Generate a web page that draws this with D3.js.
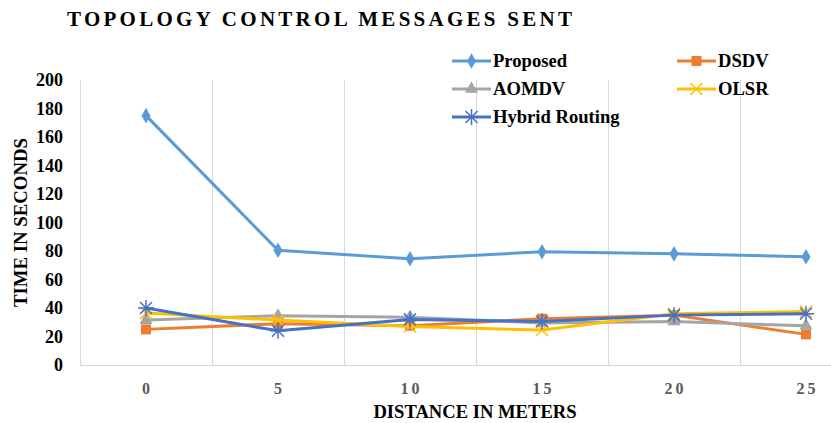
<!DOCTYPE html>
<html>
<head>
<meta charset="utf-8">
<script src="https://cdn.jsdelivr.net/npm/d3@7"></script>
<style>
  body { margin: 0; background: #fff; }
  svg text { font-family: "Liberation Serif", "Times New Roman", serif; font-weight: bold; }
</style>
</head>
<body>
<div id="chart"></div>
<script>
const distances = ["0", "5", "10", "15", "20", "25"];
const yTicks = [0, 20, 40, 60, 80, 100, 120, 140, 160, 180, 200];
const seriesNames = ["Proposed", "DSDV", "AOMDV", "OLSR", "Hybrid Routing"];
const proposed = [175, 80.5, 74.5, 79.5, 78, 76];
const dsdv = [25, 29, 27.5, 32.5, 35, 21.5];
const aomdv = [31.5, 34.5, 33.5, 29.5, 30.5, 27.5];
const olsr = [36.5, 31.5, 27, 24.5, 36, 37.5];
const hybrid = [40, 24, 32, 30.5, 35, 36];

const w = 831, h = 423;
const margin = {top: 80, left: 80, bottom: 58};
const plotRight = 872; // plot is cut off at the right edge of the picture

const svg = d3.select("#chart").append("svg")
    .attr("width", w)
    .attr("height", h);

const x = d3.scaleBand().domain(distances).range([margin.left, plotRight]);
const y = d3.scaleLinear().domain([0, 200]).range([h - margin.bottom, margin.top]);

// vertical gridlines between categories
svg.append("g").selectAll("line")
    .data(distances.slice(1))
    .enter().append("line")
    .attr("x1", d => Math.round(x(d)) + 0.5)
    .attr("x2", d => Math.round(x(d)) + 0.5)
    .attr("y1", y(200))
    .attr("y2", y(0))
    .attr("stroke", "#d9d9d9")
    .attr("stroke-width", 1);

// axes lines
svg.append("line")
    .attr("x1", margin.left).attr("x2", w)
    .attr("y1", y(0) + 0.5).attr("y2", y(0) + 0.5)
    .attr("stroke", "#d9d9d9");
svg.append("line")
    .attr("x1", margin.left + 0.5).attr("x2", margin.left + 0.5)
    .attr("y1", y(200)).attr("y2", y(0))
    .attr("stroke", "#d9d9d9");

// y tick labels
const yAxis = svg.append("g")
    .attr("transform", `translate(${margin.left - 17},0)`)
    .call(d3.axisLeft(y).tickValues(yTicks).tickSize(0).tickPadding(0));
yAxis.select(".domain").remove();
yAxis.selectAll("text")
    .attr("font-family", "Liberation Serif")
    .attr("font-size", 18)
    .attr("fill", "#000");

// x tick labels
const xAxis = svg.append("g")
    .attr("transform", `translate(0,${y(0) + 18})`)
    .call(d3.axisBottom(x).tickSize(0).tickPadding(0));
xAxis.select(".domain").remove();
xAxis.selectAll("text")
    .attr("font-family", "Liberation Serif")
    .attr("font-size", 16)
    .attr("letter-spacing", 3)
    .attr("dx", 1.5)
    .attr("fill", "#595959");

// titles
svg.append("text")
    .attr("x", 67).attr("y", 26)
    .attr("font-size", 21)
    .attr("textLength", 505)
    .attr("lengthAdjust", "spacing")
    .attr("fill", "#000")
    .text("TOPOLOGY CONTROL MESSAGES SENT");

svg.append("text")
    .attr("x", 475).attr("y", 418)
    .attr("text-anchor", "middle")
    .attr("font-size", 18.6)
    .attr("fill", "#000")
    .text("DISTANCE IN METERS");

svg.append("text")
    .attr("transform", `translate(27,${(y(0) + y(200)) / 2}) rotate(-90)`)
    .attr("text-anchor", "middle")
    .attr("font-size", 18.8)
    .attr("fill", "#000")
    .text("TIME IN SECONDS");

const series = [
    {name: seriesNames[0], values: proposed, color: "#5B9BD5", marker: "diamond"},
    {name: seriesNames[1], values: dsdv, color: "#ED7D31", marker: "square"},
    {name: seriesNames[2], values: aomdv, color: "#A5A5A5", marker: "triangle"},
    {name: seriesNames[3], values: olsr, color: "#FFC000", marker: "x"},
    {name: seriesNames[4], values: hybrid, color: "#4472C4", marker: "star"}
];

function drawMarker(g, type, color) {
    if (type === "diamond") {
        g.append("path").attr("d", d3.symbol(d3.symbolDiamond, 70)()).attr("fill", color);
    } else if (type === "square") {
        g.append("rect").attr("x", -5).attr("y", -5).attr("width", 10).attr("height", 10).attr("fill", color);
    } else if (type === "triangle") {
        g.append("path").attr("d", d3.symbol(d3.symbolTriangle, 75)()).attr("fill", color);
    } else if (type === "x") {
        g.append("path").attr("d", "M-6,-6L6,6M-6,6L6,-6").attr("stroke", color).attr("stroke-width", 1.5);
    } else if (type === "star") {
        g.append("path").attr("d", "M-6,-6L6,6M-6,6L6,-6M0,-8L0,8M-8,0L8,0")
            .attr("stroke", color).attr("stroke-width", 1.5);
    }
}

const cx = d => x(d) + x.bandwidth() / 2;
const line = d3.line()
    .x((d, i) => cx(distances[i]))
    .y(d => y(d));

series.forEach(s => {
    svg.append("path")
        .datum(s.values)
        .attr("d", line)
        .attr("fill", "none")
        .attr("stroke", s.color)
        .attr("stroke-width", 3)
        .attr("stroke-linejoin", "round");
    s.values.forEach((v, i) => {
        const g = svg.append("g").attr("transform", `translate(${cx(distances[i])},${y(v)})`);
        drawMarker(g, s.marker, s.color);
    });
});

// legend
const legendPos = [[452, 61], [677, 61], [452, 89], [677, 89], [452, 117]];
series.forEach((s, i) => {
    const [lx, ly] = legendPos[i];
    const g = svg.append("g").attr("transform", `translate(${lx},${ly})`);
    g.append("line").attr("x1", 0).attr("x2", 39).attr("y1", 0).attr("y2", 0)
        .attr("stroke", s.color).attr("stroke-width", 3);
    const m = g.append("g").attr("transform", "translate(19.5,0)");
    drawMarker(m, s.marker, s.color);
    g.append("text").attr("x", 41).attr("y", 5.5)
        .attr("font-size", 18.6).attr("fill", "#000")
        .text(s.name);
});
</script>
</body>
</html>
